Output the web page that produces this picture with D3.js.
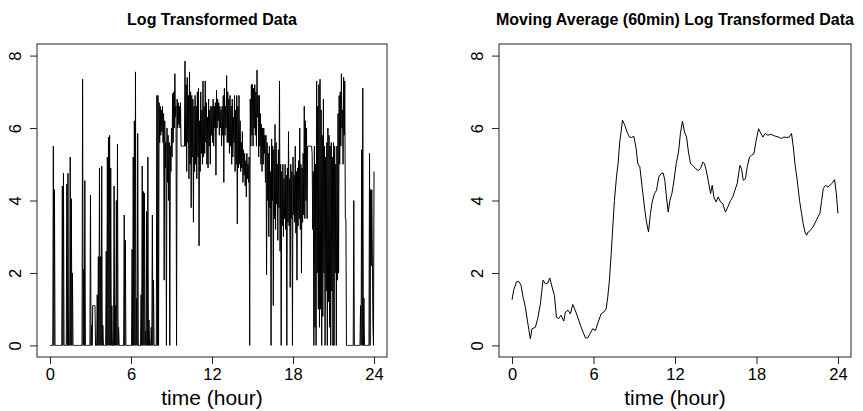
<!DOCTYPE html>
<html>
<head>
<meta charset="utf-8">
<script src="https://cdn.jsdelivr.net/npm/d3@7"></script>
<style>
  body { margin: 0; background: #fff; }
  svg { display: block; }
  text { font-family: "Liberation Sans", Arial, sans-serif; fill: #000; }
</style>
</head>
<body>
<svg id="chart" width="863" height="411"></svg>
<script>
// tick labels
const xTicks = [0, 6, 12, 18, 24];
const yTicks = [0, 2, 4, 6, 8];

// left panel: log transformed counts read per 5 minute slot (one row = one hour)
// slotMax = highest value seen in the slot, slotMin = lowest
const stepMinutes = 5;
const slotMax = [
  0, 0, 0, 5.5, 4.3, 0, 0, 0, 0, 0, 0, 4.4,
  4.75, 0, 0, 4.45, 4.75, 0, 5.2, 4.05, 2.0, 0, 0, 0,
  0, 0, 0, 0, 0, 7.35, 2.1, 4.55, 0, 0, 0, 0,
  4.15, 0.55, 1.1, 1.1, 1.1, 0, 1.4, 2.45, 4.9, 2.45, 4.95, 0.55,
  0, 0, 2.6, 5.2, 5.75, 5.8, 4.9, 1.1, 0, 4.4, 1.1, 4.0,
  5.55, 0.5, 0, 0, 0, 0, 3.6, 2.9, 0, 0, 0, 0,
  0, 2.65, 5.2, 6.2, 7.55, 1.3, 5.85, 0, 0, 1.4, 4.95, 4.25,
  4.2, 0.4, 3.7, 5.2, 0.7, 0, 0.5, 3.6, 1.8, 0, 0, 6.9,
  6.9, 6.7, 6.6, 6.5, 6.6, 6.4, 6.2, 5.6, 6.0, 5.8, 5.6, 5.5,
  6.0, 6.95, 7.0, 7.5, 6.6, 6.8, 6.7, 6.6, 6.7, 5.5, 5.5, 5.5,
  7.85, 7.2, 7.4, 6.9, 7.55, 7.0, 6.9, 6.8, 6.6, 6.9, 6.6, 7.0,
  7.1, 6.2, 7.0, 6.5, 7.3, 6.6, 7.3, 6.7, 6.3, 6.8, 6.5, 6.6,
  6.6, 6.8, 6.6, 6.7, 7.05, 6.8, 6.7, 6.6, 6.5, 6.6, 6.9, 7.1,
  6.6, 7.45, 7.0, 6.8, 6.9, 6.6, 6.8, 6.3, 6.9, 6.5, 6.9, 6.6,
  6.9, 6.2, 5.6, 5.9, 5.4, 5.3, 5.1, 5.3, 5.0, 5.2, 6.8, 7.2,
  7.2, 7.1, 7.2, 7.0, 7.6, 6.9, 6.9, 6.4, 6.1, 6.0, 6.0, 5.8,
  5.8, 5.6, 5.3, 5.5, 4.8, 5.7, 5.5, 5.4, 6.1, 5.6, 5.0, 5.4,
  7.3, 5.0, 4.8, 5.0, 4.6, 5.0, 4.7, 4.9, 5.9, 4.6, 5.0, 4.8,
  5.2, 4.7, 5.5, 4.8, 4.9, 5.1, 6.0, 5.0, 4.9, 5.3, 6.6, 6.2,
  6.0, 5.5, 5.5, 5.5, 5.5, 5.3, 4.8, 5.5, 5.0, 7.3, 6.6, 7.2,
  7.35, 6.5, 5.8, 6.8, 5.5, 5.2, 5.6, 6.0, 5.8, 5.5, 5.6, 5.2,
  5.6, 5.5, 5.0, 5.5, 6.4, 6.9, 7.0, 7.5, 6.5, 7.4, 7.3, 3.5,
  0, 0, 0, 0, 0, 0, 4.0, 0, 0, 0, 0, 0,
  1.1, 5.4, 7.1, 1.3, 0, 0, 0, 0, 5.3, 4.3, 4.3, 0.6,
  4.8
];
const slotMin = [
  0, 0, 0, 0, 0, 0, 0, 0, 0, 0, 0, 0,
  0, 0, 0, 0, 0, 0, 0, 0, 0, 0, 0, 0,
  0, 0, 0, 0, 0, 0, 0, 0, 0, 0, 0, 0,
  0, 0, 1.1, 1.1, 0, 0, 0, 0, 0, 0, 0, 0,
  0, 0, 0, 0, 0, 0, 0, 0, 0, 0, 0, 0,
  0, 0, 0, 0, 0, 0, 0, 0, 0, 0, 0, 0,
  0, 0, 0, 0, 0, 0, 0, 0, 0, 0, 0, 0,
  0, 0, 0, 0, 0, 0, 0, 0, 0, 0, 0, 0,
  0, 5.6, 5.8, 5.9, 5.6, 1.8, 4.9, 0, 4.5, 4.0, 0, 4.8,
  5.2, 5.6, 6.0, 6.3, 0, 6.0, 6.1, 6.0, 5.5, 5.5, 5.5, 5.5,
  5.5, 4.8, 5.6, 4.6, 5.0, 3.8, 5.2, 3.4, 4.8, 5.0, 4.6, 5.2,
  2.75, 4.8, 5.3, 5.0, 5.2, 5.3, 5.6, 5.0, 4.9, 5.5, 5.0, 5.8,
  5.6, 5.5, 6.0, 4.7, 6.0, 6.2, 5.8, 6.0, 5.5, 5.8, 4.5, 5.8,
  6.0, 5.6, 5.6, 5.3, 5.5, 5.0, 5.2, 5.6, 4.8, 5.0, 3.35, 4.9,
  5.0, 4.8, 4.9, 4.5, 4.7, 4.4, 4.1, 4.6, 4.5, 0, 5.5, 5.8,
  5.5, 6.0, 5.8, 5.5, 6.3, 5.2, 5.5, 5.0, 4.8, 5.0, 5.3, 4.5,
  1.95, 4.0, 3.0, 3.8, 0, 4.0, 1.1, 3.5, 3.2, 3.9, 2.9, 3.8,
  2.6, 0, 3.3, 3.0, 3.5, 3.2, 0, 3.4, 3.3, 1.6, 3.5, 0,
  3.6, 3.4, 3.1, 1.8, 3.3, 3.5, 3.2, 2.0, 3.4, 3.6, 3.5, 4.0,
  3.5, 5.5, 5.5, 5.5, 5.5, 3.2, 0, 0.5, 0, 2.0, 1.0, 0.5,
  1.0, 0, 0.8, 2.0, 0, 1.5, 0, 1.2, 0.5, 0, 1.5, 0,
  0, 2.0, 0, 1.8, 2.0, 5.0, 5.5, 6.0, 5.0, 5.8, 3.5, 0,
  0, 0, 0, 0, 0, 0, 0, 0, 0, 0, 0, 0,
  0, 0, 0, 0, 0, 0, 0, 0, 0, 2.2, 2.5, 0,
  0
];

// right panel: 60 minute moving average
const maHours = [
  0, 0.12, 0.32, 0.49, 0.66, 0.81, 0.98, 1.15, 1.35, 1.47, 1.72, 1.89,
  2.09, 2.28, 2.46, 2.63, 2.78, 2.95, 3.12, 3.27, 3.44, 3.61, 3.81, 3.93,
  4.13, 4.3, 4.47, 4.67, 4.84, 5.04, 5.23, 5.4, 5.58, 5.77, 5.94, 6.14,
  6.34, 6.56, 6.75, 6.93, 7.05, 7.17, 7.3, 7.42, 7.54, 7.69, 7.81, 7.93,
  8.03, 8.13, 8.3, 8.47, 8.65, 8.79, 8.97, 9.14, 9.26, 9.41, 9.58, 9.75,
  9.9, 10.05, 10.19, 10.32, 10.49, 10.64, 10.81, 10.98, 11.13, 11.25, 11.37, 11.5,
  11.62, 11.77, 11.91, 12.09, 12.26, 12.4, 12.55, 12.7, 12.85, 12.99, 13.14, 13.31,
  13.51, 13.71, 13.88, 14.05, 14.17, 14.3, 14.44, 14.62, 14.74, 14.86, 15.03, 15.18,
  15.35, 15.52, 15.72, 15.89, 16.09, 16.26, 16.41, 16.58, 16.78, 16.9, 17.02, 17.19,
  17.32, 17.49, 17.64, 17.81, 17.98, 18.15, 18.3, 18.47, 18.64, 18.84, 19.04, 19.23,
  19.43, 19.63, 19.82, 20.02, 20.22, 20.41, 20.58, 20.71, 20.83, 21.0, 21.17, 21.32,
  21.44, 21.57, 21.69, 21.81, 21.98, 22.16, 22.35, 22.53, 22.67, 22.8, 22.92, 23.09,
  23.26, 23.41, 23.58, 23.75, 23.88, 24.0
];
const maValues = [
  1.26, 1.52, 1.75, 1.77, 1.66, 1.34, 1.06, 0.64, 0.18, 0.46, 0.5, 0.74,
  1.15, 1.8, 1.7, 1.72, 1.86, 1.61, 1.38, 0.78, 0.74, 0.83, 0.67, 0.92,
  0.97, 0.87, 1.13, 0.95, 0.78, 0.55, 0.37, 0.21, 0.21, 0.34, 0.46, 0.41,
  0.64, 0.87, 0.92, 1.01, 1.34, 1.8, 2.53, 3.27, 4.0, 4.65, 5.02, 5.62,
  5.89, 6.22, 6.08, 5.89, 5.75, 5.74, 5.77, 5.43, 5.02, 4.93, 4.37, 3.82,
  3.41, 3.13, 3.64, 3.96, 4.19, 4.28, 4.65, 4.74, 4.76, 4.56, 4.1, 3.68,
  4.0, 4.19, 4.51, 5.02, 5.34, 5.85, 6.19, 5.89, 5.75, 5.34, 5.02, 4.97,
  4.88, 4.83, 4.88, 5.06, 5.02, 4.83, 4.56, 4.19, 4.42, 4.1, 3.96, 4.1,
  3.96, 3.91, 3.68, 3.82, 4.0, 4.1, 4.28, 4.47, 4.97, 4.88, 4.56, 4.6,
  4.93, 5.2, 5.25, 5.29, 5.66, 5.98, 5.87, 5.75, 5.85, 5.8, 5.83, 5.8,
  5.77, 5.75, 5.71, 5.75, 5.74, 5.75, 5.85, 5.48, 5.02, 4.56, 4.0, 3.64,
  3.36, 3.13, 3.04, 3.13, 3.18, 3.27, 3.41, 3.55, 3.64, 4.0, 4.33, 4.42,
  4.37, 4.42, 4.48, 4.58, 4.19, 3.64
];

const svg = d3.select("#chart");

function drawPanel(box, title, points) {
    // R style: data range padded by 4% on each side
    let x = d3.scaleLinear().domain([-0.96, 24.96]).range([box.left, box.right]);
    let y = d3.scaleLinear().domain([-0.32, 8.32]).range([box.bottom, box.top]);

    let g = svg.append("g");

    g.append("path")
        .datum(points)
        .attr("fill", "none")
        .attr("stroke", "#000")
        .attr("stroke-width", 1)
        .attr("d", d3.line()
            .x(d => x(d[0]))
            .y(d => y(d[1]))
        );

    g.append("rect")
        .attr("x", box.left)
        .attr("y", box.top)
        .attr("width", box.right - box.left)
        .attr("height", box.bottom - box.top)
        .attr("fill", "none")
        .attr("stroke", "#222")
        .attr("stroke-width", 1);

    let xAxis = g.append("g")
        .attr("transform", `translate(0,${box.bottom})`)
        .call(d3.axisBottom(x).tickValues(xTicks).tickSize(7).tickPadding(4));
    xAxis.select(".domain").remove();
    xAxis.selectAll("line").attr("stroke", "#222");
    xAxis.selectAll("text")
        .attr("font-size", "16.5px")
        .attr("font-family", "'Liberation Sans', Arial, sans-serif");

    let yAxis = g.append("g")
        .attr("transform", `translate(${box.left},0)`)
        .call(d3.axisLeft(y).tickValues(yTicks).tickSize(7));
    yAxis.select(".domain").remove();
    yAxis.selectAll("line").attr("stroke", "#222");
    yAxis.selectAll("text")
        .attr("x", null)
        .attr("dy", null)
        .attr("text-anchor", "middle")
        .attr("transform", "translate(-16,0) rotate(-90)")
        .attr("font-size", "16.5px")
        .attr("font-family", "'Liberation Sans', Arial, sans-serif");

    g.append("text")
        .attr("x", (box.left + box.right) / 2)
        .attr("y", 25)
        .attr("text-anchor", "middle")
        .attr("font-weight", "bold")
        .attr("font-size", "16px")
        .text(title);

    g.append("text")
        .attr("x", (x(0) + x(24)) / 2)
        .attr("y", 405)
        .attr("text-anchor", "middle")
        .attr("font-size", "21px")
        .text("time (hour)");
}

// each slot: its max at the slot start, its min half a step later
let rawPoints = [];
slotMax.forEach((v, i) => {
    let h = i * stepMinutes / 60;
    rawPoints.push([h, v]);
    if (i < slotMax.length - 1) rawPoints.push([h + stepMinutes / 120, slotMin[i]]);
});

drawPanel(
    { left: 37, right: 387, top: 44, bottom: 357 },
    "Log Transformed Data",
    rawPoints
);

drawPanel(
    { left: 499, right: 851, top: 44, bottom: 357 },
    "Moving Average (60min) Log Transformed Data",
    maHours.map((h, i) => [h, maValues[i]])
);
</script>
</body>
</html>
